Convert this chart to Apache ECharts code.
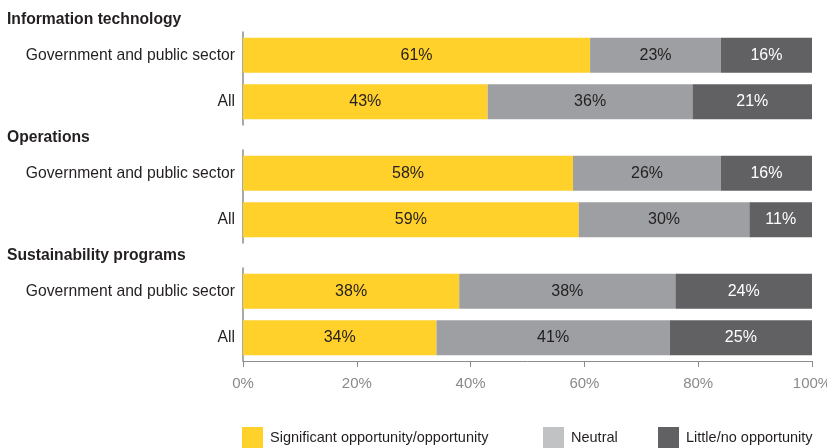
<!DOCTYPE html>
<html><head><meta charset="utf-8">
<script src="https://cdn.jsdelivr.net/npm/echarts@6/dist/echarts.min.js"></script>
<style>html,body{margin:0;padding:0;background:#fff}#c{width:827px;height:448px}</style>
</head><body><div id="c"></div>
<script>
const groups = ['Information technology', 'Operations', 'Sustainability programs'];
const categories = ['Government and public sector', 'All'];
const seriesNames = ['Significant opportunity/opportunity', 'Neutral', 'Little/no opportunity'];
const significant = [[61, 43], [58, 59], [38, 34]];
const neutral = [[23, 36], [26, 30], [38, 41]];
const little = [[16, 21], [16, 11], [24, 25]];
const xTicks = [0, 20, 40, 60, 80, 100];

const FONT = '"Liberation Sans", Arial, sans-serif';
const barColors = ['#FFD12A', '#9D9FA2', '#616164'];
const legendColors = ['#FFD12A', '#C1C2C4', '#616164'];
const labelColors = ['#231F20', '#231F20', '#FFFFFF'];
const gridTops = [32, 150, 268];
const gridH = 93;
const headerY = [19, 137, 255];

const grids = [], xAxes = [], yAxes = [], series = [], graphics = [];
const valuesBySeries = [significant, neutral, little];
groups.forEach((g, gi) => {
  grids.push({left: 243, right: 15, top: gridTops[gi], height: gridH,
    containLabel: false, outerBoundsMode: 'none'});
  const last = gi === groups.length - 1;
  xAxes.push({
    type: 'value', gridIndex: gi, min: xTicks[0], max: xTicks[xTicks.length - 1], interval: 20,
    show: true,
    axisLine: {show: last, lineStyle: {color: '#8C8C8C', width: 1}},
    axisTick: {show: last, length: 6, lineStyle: {color: '#8C8C8C'}},
    axisLabel: {show: last, color: '#8A8A8A', fontSize: 15, fontFamily: FONT, margin: 15,
      formatter: v => v + '%'},
    splitLine: {show: false}
  });
  yAxes.push({
    type: 'category', gridIndex: gi, data: categories, inverse: true,
    axisLine: {show: true, lineStyle: {color: '#8C8C8C', width: 1.5}},
    axisTick: {show: false},
    axisLabel: {color: '#231F20', fontSize: 15.7, fontFamily: FONT, margin: 8}
  });
  valuesBySeries.forEach((vals, si) => {
    series.push({
      name: seriesNames[si], type: 'bar', stack: 'g' + gi,
      xAxisIndex: gi, yAxisIndex: gi, barWidth: 35,
      data: vals[gi],
      itemStyle: {color: barColors[si]},
      label: {show: true, position: 'inside', formatter: p => p.value + '%',
        color: labelColors[si], fontSize: 16, fontFamily: FONT},
      emphasis: {disabled: true}
    });
  });
  graphics.push({type: 'text', left: 7, top: headerY[gi] - 7,
    style: {text: g, font: 'bold 15.7px ' + FONT, fill: '#231F20'}});
});

const legendLefts = [242, 543, 658];
const legends = seriesNames.map((n, i) => ({
  data: [{name: n, itemStyle: {color: legendColors[i]}}],
  left: legendLefts[i], top: 427, padding: 0, icon: 'rect', itemWidth: 21, itemHeight: 21, itemGap: 8,
  selectedMode: false,
  textStyle: {color: '#231F20', fontSize: 14.5, fontFamily: FONT, padding: [0, 0, 0, 2]}
}));

const chart = echarts.init(document.getElementById('c'));
chart.setOption({
  animation: false,
  grid: grids, xAxis: xAxes, yAxis: yAxes, series: series,
  legend: legends, graphic: graphics
});
</script></body></html>
